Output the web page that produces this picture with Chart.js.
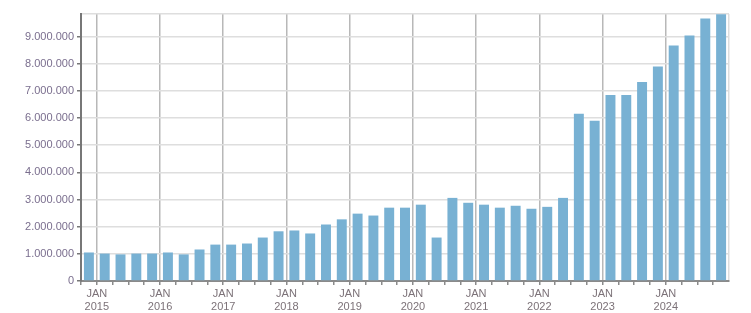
<!DOCTYPE html>
<html>
<head>
<meta charset="utf-8">
<script src="https://cdn.jsdelivr.net/npm/chart.js@4/dist/chart.umd.min.js"></script>
<style>
html,body{margin:0;padding:0;background:#fff;}
#wrap{width:751px;height:313px;position:relative;}
</style>
</head>
<body>
<div id="wrap"><canvas id="c" width="751" height="313"></canvas></div>
<script>
// Quarterly categories, Q4 2014 .. Q4 2024
const categories = [
  '2014 Q4',
  '2015 Q1','2015 Q2','2015 Q3','2015 Q4',
  '2016 Q1','2016 Q2','2016 Q3','2016 Q4',
  '2017 Q1','2017 Q2','2017 Q3','2017 Q4',
  '2018 Q1','2018 Q2','2018 Q3','2018 Q4',
  '2019 Q1','2019 Q2','2019 Q3','2019 Q4',
  '2020 Q1','2020 Q2','2020 Q3','2020 Q4',
  '2021 Q1','2021 Q2','2021 Q3','2021 Q4',
  '2022 Q1','2022 Q2','2022 Q3','2022 Q4',
  '2023 Q1','2023 Q2','2023 Q3','2023 Q4',
  '2024 Q1','2024 Q2','2024 Q3','2024 Q4'
];
const values = [
  1050000,
  1010000, 980000, 1010000, 1010000,
  1050000, 980000, 1160000, 1340000,
  1340000, 1380000, 1600000, 1830000,
  1860000, 1750000, 2080000, 2270000,
  2480000, 2410000, 2700000, 2700000,
  2810000, 1600000, 3060000, 2880000,
  2810000, 2700000, 2770000, 2660000,
  2730000, 3060000, 6160000, 5900000,
  6850000, 6850000, 7330000, 7900000,
  8670000, 9040000, 9660000, 9820000
];
const yearLabels = ['2015','2016','2017','2018','2019','2020','2021','2022','2023','2024'];
const monthLabel = 'JAN';
const yTickValues = [0,1000000,2000000,3000000,4000000,5000000,6000000,7000000,8000000,9000000];

const FONT = {family: "'Liberation Sans', Arial, sans-serif", size: 11};
function fmt(v){ return String(v).replace(/\B(?=(\d{3})+(?!\d))/g, '.'); }
// quarter boundary index k (0..N) -> year label if it's a January
function boundaryLabel(k){
  if ((k - 1) % 4 !== 0) return '';
  const yi = (k - 1) / 4;
  return yi >= 0 && yi < yearLabels.length ? [monthLabel, yearLabels[yi]] : '';
}
const N = categories.length;

new Chart(document.getElementById('c'), {
  type: 'bar',
  data: {
    labels: categories,
    datasets: [{
      data: values,
      backgroundColor: '#78b1d3',
      barPercentage: 0.63,
      categoryPercentage: 1.0,
      xAxisID: 'x',
      yAxisID: 'y'
    }]
  },
  options: {
    responsive: false,
    animation: false,
    events: [],
    layout: {padding: {top: 14, right: 22, left: 0, bottom: 0}},
    plugins: {legend: {display: false}, tooltip: {enabled: false}},
    scales: {
      x: {type: 'category', display: false, offset: true},
      xq: {
        type: 'linear',
        position: 'bottom',
        offset: false,
        min: 0, max: N,
        afterBuildTicks: (s) => { s.ticks = Array.from({length: N + 1}, (_, k) => ({value: k})); },
        ticks: {
          autoSkip: false,
          maxRotation: 0,
          padding: 2,
          color: '#7c7278',
          font: FONT,
          callback: (v) => boundaryLabel(v)
        },
        grid: {
          offset: false,
          drawOnChartArea: true,
          color: (ctx) => {
            const k = ctx.tick ? ctx.tick.value : -1;
            if (k === N) return '#dddddd';
            return boundaryLabel(k) ? '#b8b8b8' : 'rgba(0,0,0,0)';
          },
          tickColor: (ctx) => (ctx.tick && ctx.tick.value === N) ? 'rgba(0,0,0,0)' : '#8a8a8a',
          tickLength: 4,
          lineWidth: 1.5
        },
        border: {color: '#8a8a8a', width: 2},
        afterFit: (s) => { s.height = 32; }
      },
      y: {
        min: 0,
        max: 9830000,
        afterBuildTicks: (s) => {
          s.ticks = yTickValues.map(v => ({value: v})).concat([{value: 9830000}]);
        },
        ticks: {
          padding: 3,
          color: '#7a6e8e',
          font: FONT,
          callback: (v) => yTickValues.includes(v) ? fmt(v) : ''
        },
        grid: {
          color: '#dedede',
          tickColor: (ctx) => (ctx.tick && ctx.tick.value === 9830000) ? 'rgba(0,0,0,0)' : '#777777',
          tickLength: 4,
          lineWidth: 1.5
        },
        border: {color: '#777777', width: 2},
        afterFit: (s) => { s.width = 81; }
      }
    }
  }
});
</script>
</body>
</html>
